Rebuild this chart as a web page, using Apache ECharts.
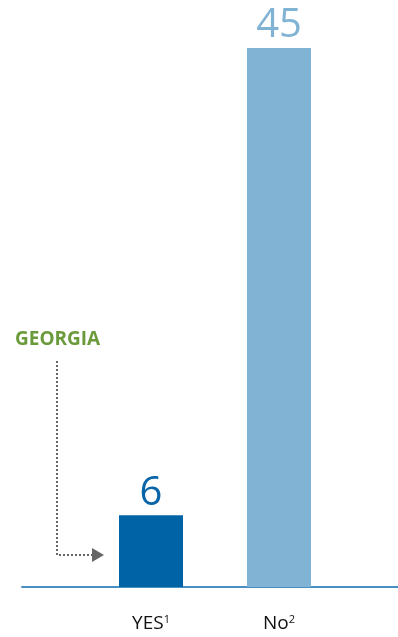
<!DOCTYPE html>
<html>
<head>
<meta charset="utf-8">
<style>
html, body { margin: 0; padding: 0; background: #fff; }
#main { width: 398px; height: 637px; }
</style>
<script src="https://cdn.jsdelivr.net/npm/echarts@6/dist/echarts.min.js"></script>
</head>
<body>
<div id="main"></div>
<script>
/* data */
var categories = ['YES', 'No'];
var footnotes = ['1', '2'];
var values = [6, 45];
var barColors = ['#0063a6', '#80b3d4'];
var labelColors = ['#0a65a8', '#80b3d4'];

var chart = echarts.init(document.getElementById('main'));

var option = {
	animation : false,
	grid : [ {
		left : 87,
		right : 55,
		top : 48,
		bottom : 50
	}, {
		left : 22,
		right : 0,
		top : 48,
		bottom : 50
	} ],
	xAxis : [ {
		type : 'category',
		gridIndex : 0,
		data : categories,
		axisLine : { show : false },
		axisTick : { show : false },
		axisLabel : {
			margin : 27,
			formatter : function(v, i) {
				return '{a|' + v + '}{s|' + footnotes[i] + '}';
			},
			rich : {
				a : { fontFamily : 'Open Sans', fontSize : 19, color : '#111' },
				s : { fontFamily : 'Open Sans', fontSize : 11, color : '#111', padding : [0, 0, 9, 0] }
			}
		}
	}, {
		type : 'value',
		gridIndex : 1,
		min : 0,
		max : 1,
		axisLine : { show : true, lineStyle : { color : '#4a8fc2', width : 2 } },
		axisTick : { show : false },
		axisLabel : { show : false },
		splitLine : { show : false }
	} ],
	yAxis : [ {
		type : 'value',
		gridIndex : 0,
		min : 0,
		max : 45,
		show : false
	}, {
		type : 'value',
		gridIndex : 1,
		min : 0,
		max : 45,
		show : false
	} ],
	series : [ {
		type : 'bar',
		xAxisIndex : 0,
		yAxisIndex : 0,
		barWidth : 64,
		data : values.map(function(v, i) {
			return {
				value : v,
				itemStyle : { color : barColors[i] },
				label : { color : labelColors[i] }
			};
		}),
		label : {
			show : true,
			position : 'top',
			distance : 2,
			fontFamily : 'Open Sans',
			fontSize : 40,
			fontWeight : 'normal'
		}
	} ],
	graphic : [ {
		type : 'text',
		left : 15,
		top : 330,
		style : {
			text : 'GEORGIA',
			fill : '#6a9a3a',
			font : 'bold 19px "Open Sans"'
		}
	}, {
		type : 'polyline',
		shape : { points : [ [57, 361], [57, 555], [93, 555] ] },
		style : { stroke : '#666', lineWidth : 2, lineDash : [2, 2], fill : null }
	}, {
		type : 'polygon',
		shape : { points : [ [92, 548], [104, 555], [92, 562] ] },
		style : { fill : '#666' }
	} ]
};

chart.setOption(option);
</script>
</body>
</html>
